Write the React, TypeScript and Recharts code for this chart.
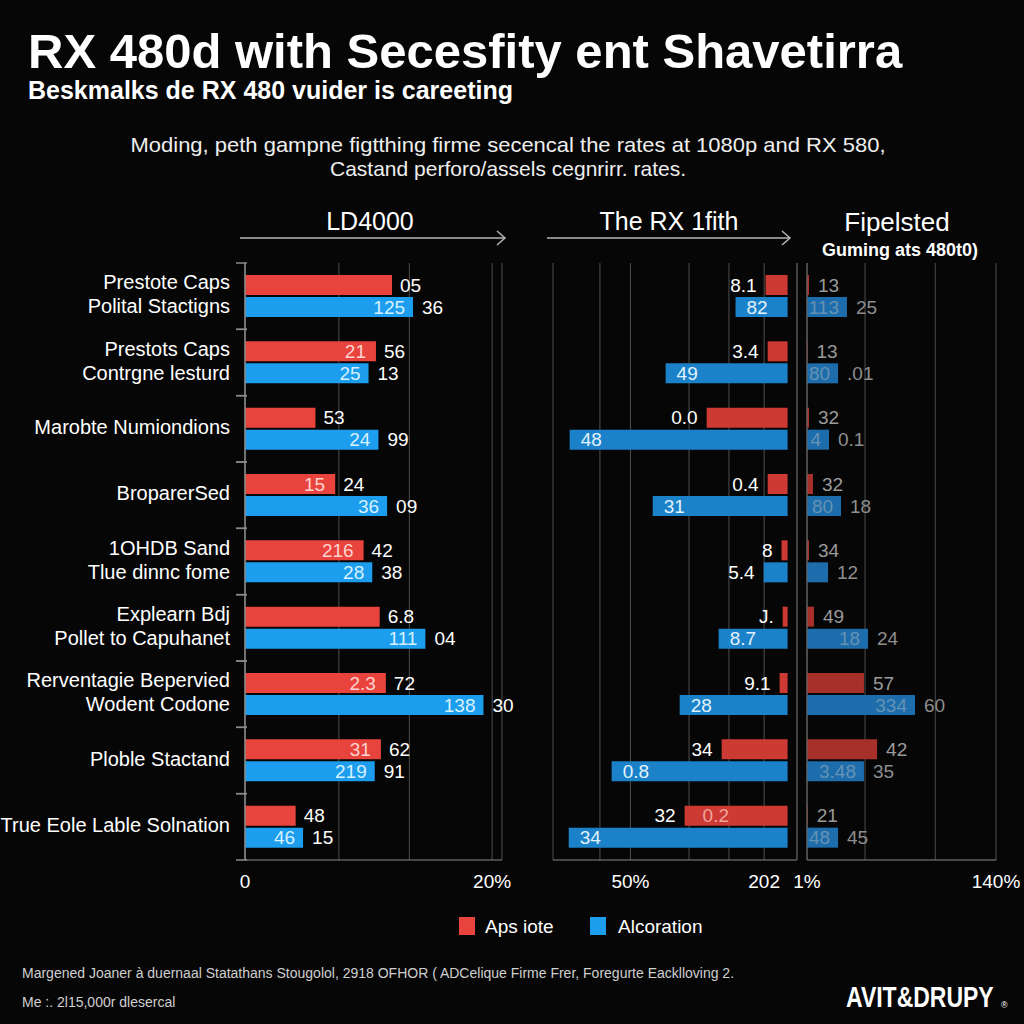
import React from 'react';
import { BarChart, Bar, XAxis, YAxis, CartesianGrid, LabelList } from 'recharts';

const categories = [
  'Prestote Caps\nPolital Stactigns',
  'Prestots Caps\nContrgne lesturd',
  'Marobte Numiondions',
  'BroparerSed',
  '1OHDB Sand\nTlue dinnc fome',
  'Explearn Bdj\nPollet to Capuhanet',
  'Rerventagie Bepervied\nWodent Codone',
  'Ploble Stactand',
  'True Eole Lable Solnation',
];

// Panel 1 (LD4000)
const p1Red = [11.9, 10.6, 5.7, 7.3, 9.6, 10.9, 11.4, 11.0, 4.1];
const p1Blue = [13.6, 10.0, 10.8, 11.5, 10.3, 14.6, 19.3, 10.5, 4.7];
const p1RedIn = ['', '21', '', '15', '216', '', '2.3', '31', ''];
const p1RedOut = ['05', '56', '53', '24', '42', '6.8', '72', '62', '48'];
const p1BlueIn = ['125', '25', '24', '36', '28', '111', '138', '219', '46'];
const p1BlueOut = ['36', '13', '99', '09', '38', '04', '30', '91', '15'];
const p1Ticks = [0, 7.6, 13.3, 20];
const p1TickLabels = ['0', '', '', '20%'];

// Panel 2 (The RX 1fith) – grows to the left
const p2Red = [9.4, 8.5, 34.5, 8.5, 2.6, 2.1, 3.4, 28.1, 43.9];
const p2Blue = [22.2, 52.0, 92.9, 57.5, 10.2, 29.4, 46.0, 75.0, 93.3];
const p2RedIn = ['', '', '', '', '', '', '', '', '0.2'];
const p2RedOut = ['8.1', '3.4', '0.0', '0.4', '8', 'J.', '9.1', '34', '32'];
const p2BlueIn = ['82', '49', '48', '31', '', '8.7', '28', '0.8', '34'];
const p2BlueOut = ['', '', '', '', '5.4', '', '', '', ''];
const p2Ticks = [10, 25, 42, 67, 80, 100];
const p2TickLabels = ['202', '', '', '50%', '', ''];

// Panel 3 (Fipelsted)
const p3Red = [1.5, 0.4, 1.5, 4.4, 1.5, 5.2, 42.2, 51.9, 0.5];
const p3Blue = [29.6, 23.0, 16.3, 25.2, 15.6, 45.2, 80.0, 42.2, 23.0];
const p3RedOut = ['13', '13', '32', '32', '34', '49', '57', '42', '21'];
const p3BlueIn = ['113', '80', '4', '80', '', '18', '334', '3.48', '48'];
const p3BlueOut = ['25', '.01', '0.1', '18', '12', '24', '60', '35', '45'];
const p3Ticks = [0, 43, 95, 140];
const p3TickLabels = ['1%', '', '', '140%'];

const legendItems = ['Aps iote', 'Alcoration'];

const rows = categories.map((name, i) => ({
  name,
  p1Red: p1Red[i], p1Blue: p1Blue[i],
  p1RedIn: p1RedIn[i], p1RedOut: p1RedOut[i], p1BlueIn: p1BlueIn[i], p1BlueOut: p1BlueOut[i],
  p2Red: p2Red[i], p2Blue: p2Blue[i],
  p2RedIn: p2RedIn[i], p2RedOut: p2RedOut[i], p2BlueIn: p2BlueIn[i], p2BlueOut: p2BlueOut[i],
  p3Red: p3Red[i], p3Blue: p3Blue[i],
  p3RedOut: p3RedOut[i], p3BlueIn: p3BlueIn[i], p3BlueOut: p3BlueOut[i],
}));

const BG = '#060606';
const FONT = '"Liberation Sans", Arial, sans-serif';
const TOP = 263;
const CH = 900;
const XAX_H = 40;
const PLOT_H = CH - TOP - XAX_H;
const BAND = PLOT_H / categories.length;
const GRID = '#4e4e4e';
const AXIS = '#8a8a8a';
const NUM = 19;

const fmt = (ticks: number[], labels: string[]) => (v: number) => {
  const i = ticks.indexOf(v);
  return i >= 0 ? labels[i] : '';
};

const CatTick = (props: any) => {
  const { x, y, payload } = props;
  const lines = String(payload.value).split('\n');
  const lh = 24;
  const y0 = y - ((lines.length - 1) * lh) / 2 - 2;
  return (
    <g>
      <line x1={x - 9} x2={x + 2} y1={y - BAND / 2} y2={y - BAND / 2} stroke={AXIS} strokeWidth={1.5} />
      <line x1={x - 9} x2={x + 2} y1={y + BAND / 2} y2={y + BAND / 2} stroke={AXIS} strokeWidth={1.5} />
      <text textAnchor="end" fill="#fff" fontSize={20} fontFamily={FONT}>
        {lines.map((l, i) => (
          <tspan key={i} x={x - 15} y={y0 + i * lh} dy="0.36em">{l}</tspan>
        ))}
      </text>
    </g>
  );
};

const xTick = { fill: '#fff', fontSize: 19, fontFamily: FONT };

export default function App() {
  return (
    <div style={{ position: 'absolute', left: 0, top: 0, width: 1024, height: 1024, background: BG, overflow: 'hidden', fontFamily: FONT }}>
      {/* Panel 1 */}
      <div style={{ position: 'absolute', left: 0, top: 0 }}>
        <BarChart layout="vertical" width={520} height={CH} data={rows} margin={{ top: TOP, right: 18, left: 0, bottom: 0 }} barGap={2}>
          <CartesianGrid horizontal={false} stroke={GRID} />
          <XAxis type="number" domain={[0, 20.8]} ticks={p1Ticks} interval={0} height={XAX_H}
            tickFormatter={fmt(p1Ticks, p1TickLabels)} tick={xTick} tickLine={false} tickSize={6} tickMargin={9}
            axisLine={{ stroke: AXIS }} />
          <YAxis type="category" dataKey="name" width={245} tick={<CatTick />} tickLine={false} tickSize={0} tickMargin={0}
            axisLine={{ stroke: AXIS, strokeWidth: 1.5 }} interval={0} />
          <Bar dataKey="p1Red" fill="#e8433d" barSize={20} isAnimationActive={false}>
            <LabelList dataKey="p1RedIn" position="insideRight" offset={10} fill="#ffd3d0" fontSize={NUM} />
            <LabelList dataKey="p1RedOut" position="right" offset={8} fill="#ffffff" fontSize={NUM} />
          </Bar>
          <Bar dataKey="p1Blue" fill="#1c9ded" barSize={20} isAnimationActive={false}>
            <LabelList dataKey="p1BlueIn" position="insideRight" offset={8} fill="#d6f1ff" fontSize={NUM} />
            <LabelList dataKey="p1BlueOut" position="right" offset={9} fill="#ffffff" fontSize={NUM} />
          </Bar>
        </BarChart>
      </div>

      {/* Panel 2 */}
      <div style={{ position: 'absolute', left: 540, top: 0 }}>
        <BarChart layout="vertical" width={270} height={CH} data={rows} margin={{ top: TOP, right: 0, left: 13, bottom: 0 }} barGap={2}>
          <CartesianGrid horizontal={false} stroke={GRID} />
          <XAxis type="number" domain={[-4, 100]} reversed ticks={p2Ticks} interval={0} height={XAX_H}
            tickFormatter={fmt(p2Ticks, p2TickLabels)} tick={xTick} tickLine={false} tickSize={6} tickMargin={9}
            axisLine={{ stroke: AXIS }} />
          <YAxis type="category" dataKey="name" orientation="right" width={13} tick={false} tickLine={false}
            axisLine={{ stroke: '#5a5a5a' }} />
          <Bar dataKey="p2Red" fill="#cc3a33" barSize={20} isAnimationActive={false}>
            <LabelList dataKey="p2RedIn" position="insideRight" offset={18} fill="#f0a49c" fontSize={NUM} />
            <LabelList dataKey="p2RedOut" position="right" offset={9} fill="#ffffff" fontSize={NUM} />
          </Bar>
          <Bar dataKey="p2Blue" fill="#1b82c9" barSize={20} isAnimationActive={false}>
            <LabelList dataKey="p2BlueIn" position="insideRight" offset={11} fill="#e2f2fc" fontSize={NUM} />
            <LabelList dataKey="p2BlueOut" position="right" offset={9} fill="#ffffff" fontSize={NUM} />
          </Bar>
        </BarChart>
      </div>

      {/* Panel 3 */}
      <div style={{ position: 'absolute', left: 788, top: 0 }}>
        <BarChart layout="vertical" width={236} height={CH} data={rows} margin={{ top: TOP, right: 28, left: 12, bottom: 0 }} barGap={2}>
          <CartesianGrid horizontal={false} stroke={GRID} />
          <XAxis type="number" domain={[0, 140]} ticks={p3Ticks} interval={0} height={XAX_H}
            tickFormatter={fmt(p3Ticks, p3TickLabels)} tick={xTick} tickLine={false} tickSize={6} tickMargin={9}
            axisLine={{ stroke: AXIS }} />
          <YAxis type="category" dataKey="name" width={7} tick={false} tickLine={false} axisLine={{ stroke: '#6a6a6a' }} />
          <Bar dataKey="p3Red" fill="#a8302a" barSize={20} isAnimationActive={false}>
            <LabelList dataKey="p3RedOut" position="right" offset={9} fill="#9a9a9a" fontSize={NUM} />
          </Bar>
          <Bar dataKey="p3Blue" fill="#1d6cab" barSize={20} isAnimationActive={false}>
            <LabelList dataKey="p3BlueIn" position="insideRight" offset={8} fill="#6593b4" fontSize={NUM} />
            <LabelList dataKey="p3BlueOut" position="right" offset={9} fill="#8e8e8e" fontSize={NUM} />
          </Bar>
        </BarChart>
      </div>

      {/* Text & decorations */}
      <svg width={1024} height={1024} style={{ position: 'absolute', left: 0, top: 0, pointerEvents: 'none' }} fontFamily={FONT}>
        <text x={28} y={68} fontSize={49} fontWeight={700} fill="#ffffff">RX 480d with Secesfity ent Shavetirra</text>
        <text x={28} y={99} fontSize={25} fontWeight={700} fill="#ffffff">Beskmalks de RX 480 vuider is careeting</text>
        <text x={508} y={152} fontSize={21} textAnchor="middle" fill="#eeeeee" textLength={755} lengthAdjust="spacingAndGlyphs">Moding, peth gampne figtthing firme secencal the rates at 1080p and RX 580,</text>
        <text x={508} y={176} fontSize={21} textAnchor="middle" fill="#eeeeee">Castand perforo/assels cegnrirr. rates.</text>

        <text x={370} y={230} fontSize={25} textAnchor="middle" fill="#ffffff">LD4000</text>
        <text x={669} y={230} fontSize={25} textAnchor="middle" fill="#ffffff">The RX 1fith</text>
        <text x={897} y={231} fontSize={26} textAnchor="middle" fill="#ffffff">Fipelsted</text>
        <text x={900} y={256} fontSize={18} fontWeight={700} textAnchor="middle" fill="#ffffff">Guming ats 480t0)</text>

        <line x1={240} x2={505} y1={238} y2={238} stroke="#b5b5b5" strokeWidth={1.5} />
        <polyline points="497,231 505,238 497,245" fill="none" stroke="#b5b5b5" strokeWidth={1.5} />
        <line x1={547} x2={790} y1={238} y2={238} stroke="#b5b5b5" strokeWidth={1.5} />
        <polyline points="782,231 790,238 782,245" fill="none" stroke="#b5b5b5" strokeWidth={1.5} />

        <rect x={459} y={917} width={16} height={18} fill="#e8433d" />
        <text x={485} y={933} fontSize={19} fill="#ffffff">{legendItems[0]}</text>
        <rect x={590} y={917} width={16} height={18} fill="#1c9ded" />
        <text x={618} y={933} fontSize={19} fill="#ffffff">{legendItems[1]}</text>

        <text x={22} y={978} fontSize={14} fill="#cfcfcf">Margened Joaner à duernaal Statathans Stougolol, 2918 OFHOR ( ADCelique Firme Frer, Foregurte Eacklloving 2.</text>
        <text x={22} y={1007} fontSize={14} fill="#cfcfcf">Me :. 2l15,000r dlesercal</text>
        <g transform="translate(846,1007) scale(1,1.3)">
          <text x={0} y={0} fontSize={23} fontWeight={700} fill="#ffffff">AVIT&amp;DRUPY</text>
        </g>
        <text x={1001} y={1008} fontSize={9} fill="#ffffff">®</text>
      </svg>
    </div>
  );
}
